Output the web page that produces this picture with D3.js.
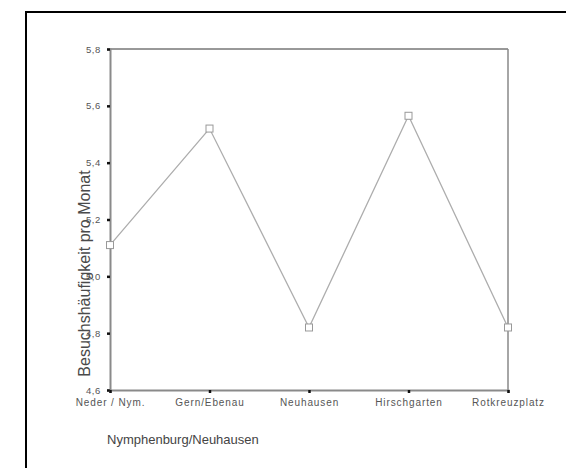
<!DOCTYPE html>
<html>
<head>
<meta charset="utf-8">
<script src="https://cdn.jsdelivr.net/npm/d3@7"></script>
<style>
  html, body { margin: 0; padding: 0; background: #fff; }
  svg { display: block; font-family: Arial, "Liberation Sans", sans-serif; }
</style>
</head>
<body>
<svg id="chart" width="566" height="468"></svg>
<script>
// Mean visits per month by district
const districts = ["Neder / Nym.", "Gern/Ebenau", "Neuhausen", "Hirschgarten", "Rotkreuzplatz"];
const visits = [5.11, 5.52, 4.82, 5.565, 4.82];
const yTicks = [4.6, 4.8, 5.0, 5.2, 5.4, 5.6, 5.8];
const yTitle = "Besuchshäufigkeit pro Monat";
const xTitle = "Nymphenburg/Neuhausen";

const svg = d3.select("#chart");
const plot = { left: 110, right: 508, top: 49, bottom: 390 };

const x = d3.scalePoint().domain(districts).range([plot.left, plot.right]).padding(0);
const y = d3.scaleLinear().domain([4.6, 5.8]).range([plot.bottom, plot.top]);
const fmt = v => d3.format(".1f")(v).replace(".", ",");

// outer frame
svg.append("rect")
  .attr("x", 26).attr("y", 12).attr("width", 600).attr("height", 500)
  .attr("fill", "none").attr("stroke", "#000").attr("stroke-width", 2);

// plot frame: dark top edge, grey right edge
svg.append("line")
  .attr("x1", plot.left).attr("x2", plot.right)
  .attr("y1", plot.top).attr("y2", plot.top)
  .attr("stroke", "#333").attr("stroke-width", 1);
svg.append("line")
  .attr("x1", plot.right).attr("x2", plot.right)
  .attr("y1", plot.top).attr("y2", plot.bottom)
  .attr("stroke", "#888").attr("stroke-width", 1.5);

// y axis
const yAxis = svg.append("g")
  .attr("transform", `translate(${plot.left},0)`)
  .call(d3.axisLeft(y).tickValues(yTicks).tickFormat(fmt).tickSize(3).tickPadding(6));
yAxis.select(".domain").attr("stroke", "#8a8a8a").attr("stroke-width", 2);
yAxis.selectAll(".tick line").attr("stroke", "#111").attr("stroke-width", 2.5);
yAxis.selectAll(".tick text")
  .attr("fill", "#555").attr("font-size", 9.5).attr("letter-spacing", 0.6);

// x axis
const xAxis = svg.append("g")
  .attr("transform", `translate(0,${plot.bottom})`)
  .call(d3.axisBottom(x).tickSize(3).tickPadding(6));
xAxis.select(".domain").attr("stroke", "#8a8a8a").attr("stroke-width", 2);
xAxis.selectAll(".tick line").attr("stroke", "#111").attr("stroke-width", 2.5);
xAxis.selectAll(".tick text")
  .attr("fill", "#555").attr("font-size", 10).attr("letter-spacing", 0.9);

// series line
const pts = districts.map((d, i) => ({ d, v: visits[i] }));
svg.append("path")
  .datum(pts)
  .attr("fill", "none")
  .attr("stroke", "#adadad")
  .attr("stroke-width", 1.3)
  .attr("d", d3.line().x(p => x(p.d)).y(p => y(p.v)));

// square markers
svg.selectAll("rect.marker")
  .data(pts)
  .join("rect")
  .attr("class", "marker")
  .attr("x", p => x(p.d) - 3.5)
  .attr("y", p => y(p.v) - 3.5)
  .attr("width", 7).attr("height", 7)
  .attr("fill", "#fff")
  .attr("stroke", "#999")
  .attr("stroke-width", 1);

// axis titles
svg.append("text")
  .attr("transform", `translate(90,${(plot.bottom - 15 + 172) / 2}) rotate(-90)`)
  .attr("text-anchor", "middle")
  .attr("font-size", 16)
  .attr("fill", "#4a4a4a")
  .text(yTitle);

svg.append("text")
  .attr("x", 107).attr("y", 444)
  .attr("font-size", 13)
  .attr("fill", "#444")
  .text(xTitle);
</script>
</body>
</html>
